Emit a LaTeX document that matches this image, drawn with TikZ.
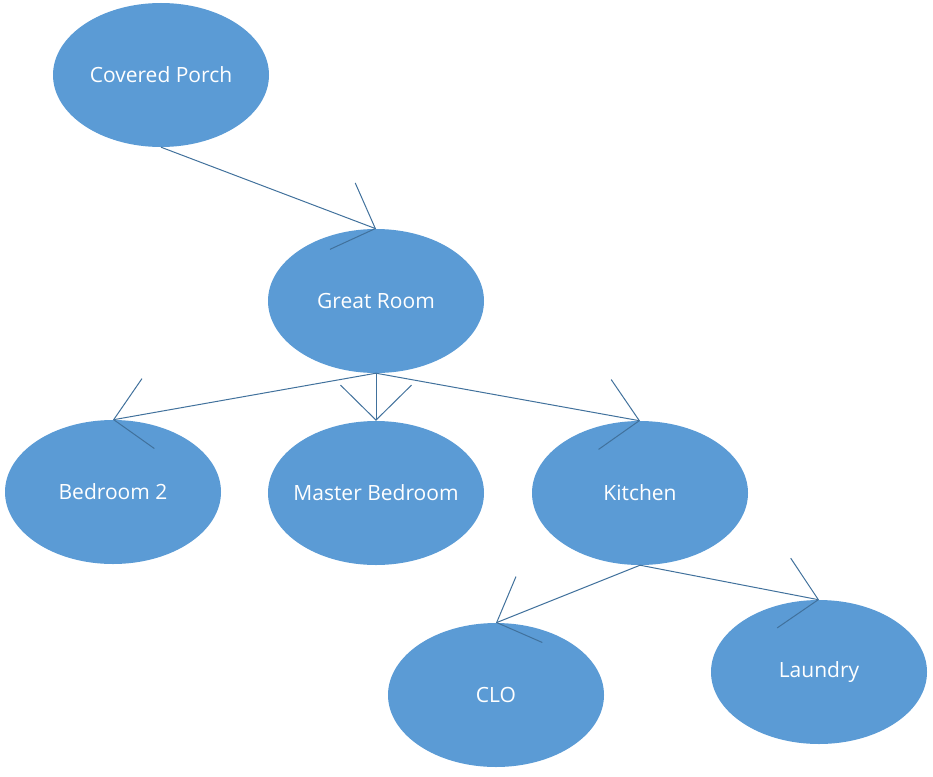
\documentclass[tikz,border=0pt]{standalone}
\usepackage{fontspec}
\setmainfont{Open Sans}
\usetikzlibrary{arrows.meta,shapes.geometric}
\definecolor{roomfill}{HTML}{5B9BD5}
\definecolor{linkcol}{HTML}{41719C}
\newcommand{\roomtext}[1]{\makebox[0pt]{#1}}
\begin{document}
\begin{tikzpicture}[x=1pt,y=-1pt,
  room/.style={ellipse, fill=roomfill, minimum width=216pt, minimum height=144pt, inner sep=0pt, text=white, font=\fontsize{21}{25}\selectfont},
  link/.style={draw=linkcol, line width=1pt, -{Straight Barb[length=35pt,width=71pt,line width=1pt]}}]
\useasboundingbox (0,0) rectangle (933,776);
\node[room] (cp) at (161,75) {\roomtext{Covered Porch}};
\node[room] (gr) at (376,301) {\roomtext{Great Room}};
\node[room] (b2) at (113,492) {\roomtext{Bedroom 2}};
\node[room] (mb) at (376,493) {\roomtext{Master Bedroom}};
\node[room] (ki) at (640,493) {\roomtext{Kitchen}};
\node[room] (clo) at (496,695) {\roomtext{CLO}};
\node[room] (la) at (819,672) {\roomtext{Laundry}};
\draw[link] (cp.south) -- (gr.north);
\draw[link] (gr.south) -- (b2.north);
\draw[link] (gr.south) -- (mb.north);
\draw[link] (gr.south) -- (ki.north);
\draw[link] (ki.south) -- (clo.north);
\draw[link] (ki.south) -- (la.north);
\end{tikzpicture}
\end{document}
